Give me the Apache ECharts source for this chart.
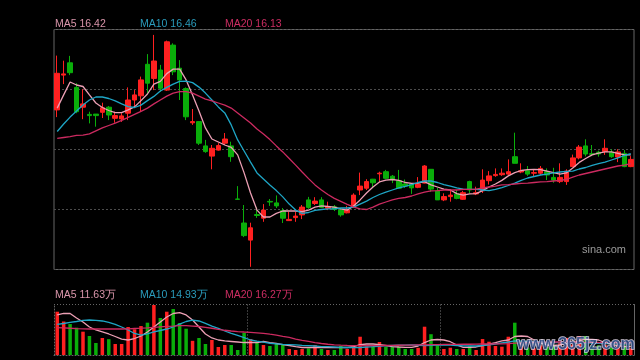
<!DOCTYPE html>
<html><head><meta charset="utf-8">
<script src="https://cdn.jsdelivr.net/npm/echarts@6/dist/echarts.min.js"></script>
<style>html,body{margin:0;padding:0;background:#000;}#c{width:640px;height:360px;}</style>
</head><body><div id="c"></div>
<script>
const opens = [17.92,19.08,19.49,18.67,18.01,17.77,17.78,17.84,18.01,17.64,
17.62,17.81,18.25,18.39,19.44,18.97,19.25,18.58,20.08,19.31,
18.63,17.49,17.53,16.72,16.38,16.58,16.81,16.72,14.95,14.15,
13.58,14.43,14.31,14.87,14.82,14.56,14.23,14.33,14.42,14.92,
14.80,14.92,14.64,14.69,14.58,14.49,14.69,15.25,15.31,15.61,
15.79,15.86,15.71,15.56,15.45,15.45,15.34,15.48,15.94,15.22,
14.92,15.03,15.12,14.94,15.53,15.12,15.22,15.56,15.73,15.76,
15.78,16.36,15.85,15.89,15.81,15.81,15.86,15.67,15.53,15.53,
16.03,16.32,16.72,16.46,16.51,16.53,16.51,16.35,16.47,16.03];
const closes = [19.14,19.12,19.16,17.86,18.12,17.73,17.73,17.99,17.75,17.73,
17.72,18.25,18.42,18.92,18.81,19.55,18.64,20.19,19.19,18.92,
17.69,17.53,16.81,16.53,16.64,16.73,16.95,16.36,14.94,13.73,
13.99,14.40,14.58,14.85,14.72,14.31,14.27,14.38,14.68,14.67,
14.88,14.67,14.69,14.60,14.42,14.58,15.08,15.38,15.53,15.49,
15.81,15.64,15.61,15.31,15.38,15.32,15.45,16.05,15.28,14.92,
15.03,15.08,14.97,15.16,15.25,15.16,15.58,15.72,15.77,15.81,
15.86,16.14,15.89,15.78,15.83,15.97,15.75,15.58,15.67,15.88,
16.32,16.68,16.45,16.44,16.45,16.64,16.36,16.52,16.03,16.27];
const lows = [17.68,18.78,19.08,17.81,17.61,17.47,17.36,17.65,17.58,17.49,
17.52,17.58,17.98,17.86,18.47,18.58,18.52,18.55,19.08,18.25,
17.58,17.42,16.75,16.49,15.94,16.56,16.75,16.19,14.93,13.68,
12.69,14.32,14.19,14.72,14.65,14.15,14.22,14.19,14.28,14.62,
14.75,14.65,14.58,14.55,14.36,14.47,14.67,15.08,15.25,15.32,
15.53,15.61,15.48,15.31,15.32,15.12,15.31,15.47,15.19,14.92,
14.88,14.86,14.94,14.92,15.15,15.08,15.15,15.43,15.69,15.72,
15.75,16.14,15.81,15.72,15.69,15.75,15.58,15.49,15.48,15.42,
16.01,16.27,16.37,16.38,16.36,16.42,16.32,16.18,16.01,16.01];
const highs = [19.73,19.56,19.72,18.81,18.61,17.86,17.78,18.16,18.05,17.86,
17.81,18.67,18.58,19.03,19.78,20.42,19.42,20.23,20.14,19.58,
18.67,17.95,17.55,16.92,16.75,16.81,17.15,16.86,15.38,14.75,
14.16,14.68,14.78,14.95,15.07,14.65,14.52,14.52,14.75,15.02,
15.01,15.01,14.86,14.75,14.62,14.72,15.14,15.83,15.61,15.62,
15.86,15.92,15.75,15.92,15.60,15.48,15.68,16.08,15.95,15.32,
15.14,15.27,15.25,15.22,15.56,15.36,15.94,15.88,15.97,15.97,
16.27,17.16,16.14,16.05,15.92,16.05,15.97,15.99,16.14,15.94,
16.43,16.75,16.94,16.75,16.56,16.94,16.61,16.61,16.58,16.38];
const ma5 = [17.98,18.42,18.85,18.75,18.70,18.42,18.15,18.00,17.90,17.83,
17.83,17.92,18.02,18.23,18.45,18.78,18.87,19.13,19.28,19.28,
18.92,18.42,17.88,17.32,16.95,16.85,16.75,16.67,16.42,15.82,
15.15,14.58,14.35,14.35,14.47,14.55,14.55,14.55,14.53,14.58,
14.68,14.72,14.70,14.68,14.62,14.58,14.72,14.92,15.15,15.35,
15.52,15.58,15.60,15.57,15.50,15.47,15.48,15.53,15.42,15.35,
15.28,15.25,15.13,15.08,15.12,15.13,15.23,15.35,15.45,15.57,
15.72,15.83,15.90,15.93,15.94,15.93,15.88,15.83,15.78,15.82,
15.98,16.17,16.30,16.42,16.48,16.52,16.52,16.47,16.42,16.42];
const ma10 = [17.20,17.45,17.68,17.88,18.08,18.25,18.35,18.35,18.30,18.22,
18.12,18.03,18.00,18.08,18.23,18.37,18.55,18.67,18.78,18.87,
18.88,18.83,18.68,18.48,18.25,18.02,17.82,17.42,16.92,16.55,
16.18,15.82,15.62,15.42,15.23,15.02,14.78,14.58,14.47,14.50,
14.57,14.60,14.62,14.62,14.65,14.65,14.68,14.78,14.88,15.00,
15.10,15.18,15.25,15.32,15.37,15.43,15.50,15.55,15.55,15.50,
15.43,15.38,15.32,15.28,15.27,15.27,15.25,15.23,15.27,15.33,
15.40,15.48,15.57,15.65,15.70,15.75,15.78,15.82,15.85,15.87,
15.88,15.95,16.00,16.07,16.13,16.18,16.25,16.32,16.40,16.46];
const ma20 = [16.97,17.00,17.03,17.07,17.08,17.12,17.22,17.32,17.40,17.48,
17.57,17.67,17.77,17.87,17.98,18.12,18.25,18.38,18.48,18.53,
18.53,18.48,18.38,18.28,18.22,18.15,18.08,17.98,17.82,17.65,
17.48,17.28,17.12,16.93,16.72,16.52,16.30,16.08,15.85,15.63,
15.42,15.25,15.10,14.97,14.87,14.77,14.68,14.62,14.60,14.68,
14.78,14.85,14.92,14.97,15.00,15.05,15.12,15.18,15.22,15.23,
15.25,15.25,15.25,15.27,15.27,15.28,15.32,15.35,15.38,15.42,
15.43,15.45,15.47,15.48,15.50,15.52,15.53,15.55,15.57,15.60,
15.68,15.75,15.80,15.85,15.90,15.95,16.00,16.05,16.08,16.13];
// volumes in 万
const volumes = [58.3,45.1,41.7,36.8,31.4,25.6,16.2,22.9,21.3,14.8,
14.8,37.7,34.6,39.0,43.5,67.3,49.8,58.3,61.9,43.1,
35.4,19.1,22.9,14.8,20.2,10.8,13.5,13.5,6.7,29.6,
21.5,17.9,13.5,12.1,15.8,14.4,8.1,6.7,8.1,9.0,
13.5,8.1,6.7,6.7,12.1,8.1,11.2,24.6,11.4,11.7,
17.5,11.2,10.8,11.2,8.1,8.1,9.7,38.1,28.0,14.1,
8.1,9.8,8.1,8.1,12.1,6.7,21.5,17.9,12.1,11.2,
24.6,43.5,12,10,9,13,11,14,16,23,
14,25.6,25.6,13,13,14,10,12,13,9];
const vma5 = [53.9,55.9,55.9,49.8,44.4,37.7,33.7,31.0,28.3,24.9,
21.5,20.2,22.2,25.6,31.0,37.7,44.4,51.2,55.9,57.2,
53.9,47.1,37.7,28.3,22.9,20.2,18.9,18.2,17.5,16.8,
16.8,16.8,18.2,16.8,15.5,14.1,12.8,11.4,10.1,10.1,
10.1,10.1,9.8,9.8,10.1,10.1,11.4,14.1,14.8,14.8,
14.1,12.8,11.4,10.8,10.4,10.4,12.1,16.8,20.2,20.9,
20.2,17.9,13.5,10.4,10.4,10.8,12.8,14.8,16.8,18.9,
20.2,24.9,25.6,24.9,20.2,16.2,13.5,12.8,13.5,15.5,
16.8,19.5,20.9,20.9,20.2,16.8,14.1,12.8,11.4,11.63];
const vma10 = [41.3,42.4,43.8,45.1,46.5,47.1,46.5,45.8,43.8,41.1,
37.7,33.7,29.0,26.9,28.3,31.0,33.0,35.0,37.7,41.7,
45.1,47.1,45.8,42.7,39.0,36.0,32.3,29.2,26.3,23.3,
20.2,18.6,17.2,15.8,15.1,14.4,14.0,13.5,12.9,12.5,
12.1,11.4,11.2,10.8,10.4,10.1,9.8,10.1,10.8,11.2,
11.8,12.5,12.8,13.1,13.3,13.5,13.1,12.7,12.9,13.2,
13.5,13.2,12.8,12.4,12.1,12.1,12.8,13.5,14.8,16.2,
17.5,18.9,18.6,18.2,17.8,17.5,17.1,16.8,16.8,16.7,
16.6,16.4,16.2,15.9,15.6,15.4,15.3,15.1,15.0,14.93];
const vma20 = [36.8,36.4,36.0,35.5,35.1,35.0,35.0,35.0,35.0,35.0,
35.0,35.3,35.7,36.1,36.6,37.3,38.0,38.6,39.0,39.5,
39.5,39.0,38.4,37.3,36.0,34.6,33.3,32.3,31.6,31.0,
30.6,29.9,29.2,28.0,26.9,25.2,23.6,21.5,19.8,18.2,
16.6,15.5,14.5,13.7,13.2,12.9,12.7,12.5,12.5,12.5,
12.7,12.8,12.9,13.1,13.2,13.3,13.5,13.7,14.0,14.1,
14.3,14.4,14.4,14.5,14.5,14.7,14.8,14.8,14.9,15.1,
15.4,15.9,16.4,16.8,17.1,17.2,17.4,17.5,17.5,17.5,
17.4,17.2,17.1,17.0,16.8,16.7,16.6,16.4,16.3,16.27];
const priceLegend = ['MA5 16.42', 'MA10 16.46', 'MA20 16.13'];
const volLegend = ['MA5 11.63万', 'MA10 14.93万', 'MA20 16.27万'];
const monthBreaks = [30, 60];

const categories = closes.map((_, i) => String(i + 1));
const UP = '#ff2020', DOWN = '#0aae0a';
const C5 = '#ec9fb4', C10 = '#1ea6c6', C20 = '#cc2a60';
const L5 = '#d995aa', L10 = '#2a9cbc', L20 = '#cc2d62';
const candleData = opens.map((o, i) => [o, closes[i], lows[i], highs[i]]);
const volData = volumes.map((v, i) => ({ value: v, itemStyle: { color: closes[i] >= opens[i] ? UP : DOWN } }));

const chart = echarts.init(document.getElementById('c'));
const FONT = '10.5px "Liberation Sans", Arial, sans-serif';
function lineSeries(data, color, xi, yi) {
  return { type: 'line', data: data, xAxisIndex: xi, yAxisIndex: yi, symbol: 'none', smooth: false,
    lineStyle: { color: color, width: 1.3 }, silent: true, z: 3 };
}
chart.setOption({
  backgroundColor: '#000',
  animation: false,
  grid: [
    { left: 54, top: 29.5, width: 580, height: 240, show: true, borderColor: '#666', borderWidth: 1, backgroundColor: 'transparent' },
    { left: 54, top: 304.5, width: 580, height: 50.5, show: false }
  ],
  xAxis: [
    { type: 'category', gridIndex: 0, data: categories, boundaryGap: true,
      axisLine: { show: false }, axisTick: { show: false }, axisLabel: { show: false }, splitLine: { show: false } },
    { type: 'category', gridIndex: 1, data: categories, boundaryGap: true,
      axisLine: { show: true, lineStyle: { color: '#666', type: [1, 2] } }, axisTick: { show: false }, axisLabel: { show: false },
      splitLine: { show: true, interval: (idx) => monthBreaks.indexOf(idx) >= 0, lineStyle: { color: '#777', type: [1, 2] } } }
  ],
  yAxis: [
    { type: 'value', gridIndex: 0, min: 12.6, max: 20.6, interval: 2, scale: true,
      axisLine: { show: false }, axisTick: { show: false }, axisLabel: { show: false },
      splitLine: { show: true, lineStyle: { color: '#4c4c4c', type: [2, 2], width: 1 } } },
    { type: 'value', gridIndex: 1, min: 0, max: 68, interval: 68,
      axisLine: { show: true, lineStyle: { color: '#666', type: [1, 2] } }, axisTick: { show: false }, axisLabel: { show: false },
      splitLine: { show: true, lineStyle: { color: '#666', type: [1, 2] } } },
    { type: 'value', gridIndex: 1, min: 0, max: 68, position: 'right',
      axisLine: { show: true, lineStyle: { color: '#666' } }, axisTick: { show: false }, axisLabel: { show: false }, splitLine: { show: false } }
  ],
  series: [
    { type: 'candlestick', data: candleData, xAxisIndex: 0, yAxisIndex: 0, barWidth: 5,
      itemStyle: { color: UP, color0: DOWN, borderColor: UP, borderColor0: DOWN, borderWidth: 1 } },
    lineSeries(ma5, C5, 0, 0),
    lineSeries(ma10, C10, 0, 0),
    lineSeries(ma20, C20, 0, 0),
    { type: 'bar', data: volData, xAxisIndex: 1, yAxisIndex: 1, barWidth: 3.5 },
    lineSeries(vma5, C5, 1, 1),
    lineSeries(vma10, C10, 1, 1),
    lineSeries(vma20, C20, 1, 1)
  ],
  graphic: [
    { type: 'text', x: 55, y: 24.5, style: { text: priceLegend[0], fill: L5, font: FONT, verticalAlign: 'middle' } },
    { type: 'text', x: 140, y: 24.5, style: { text: priceLegend[1], fill: L10, font: FONT, verticalAlign: 'middle' } },
    { type: 'text', x: 225, y: 24.5, style: { text: priceLegend[2], fill: L20, font: FONT, verticalAlign: 'middle' } },
    { type: 'text', x: 55, y: 295, style: { text: volLegend[0], fill: L5, font: FONT, verticalAlign: 'middle' } },
    { type: 'text', x: 140, y: 295, style: { text: volLegend[1], fill: L10, font: FONT, verticalAlign: 'middle' } },
    { type: 'text', x: 225, y: 295, style: { text: volLegend[2], fill: L20, font: FONT, verticalAlign: 'middle' } },
    { type: 'text', x: 582, y: 249.5, style: { text: 'sina.com', fill: '#9a9a9a', font: '11px "Liberation Sans", Arial, sans-serif', verticalAlign: 'middle' } },
    { type: 'text', x: 517, y: 345, z: 100, style: { text: 'www.365jz.com', fill: 'rgba(40,70,130,0.85)', stroke: 'rgba(235,225,240,0.85)', lineWidth: 1.5, font: 'bold 16px "Liberation Sans", Arial, sans-serif', verticalAlign: 'middle' } }
  ]
});
</script></body></html>
